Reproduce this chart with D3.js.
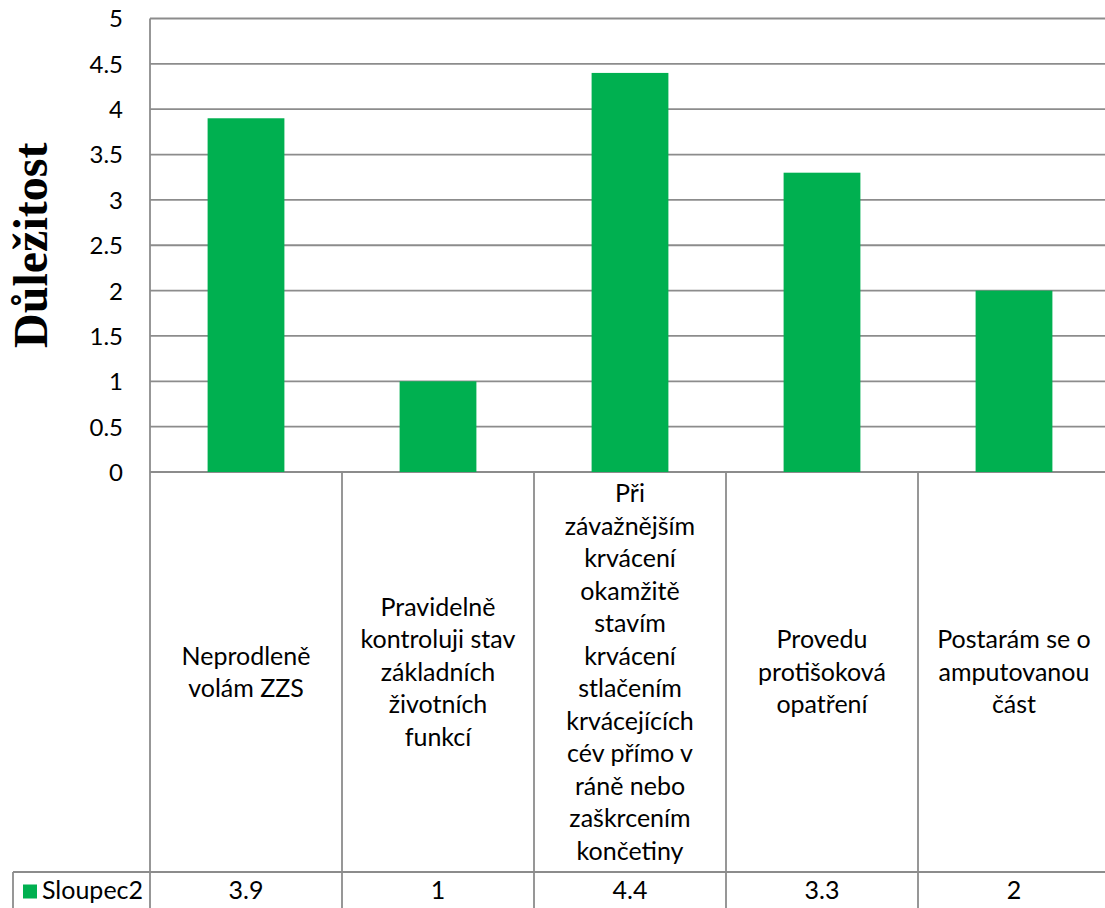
<!DOCTYPE html>
<html>
<head>
<meta charset="utf-8">
<script src="https://cdn.jsdelivr.net/npm/d3@7"></script>
<style>
  html, body { margin: 0; padding: 0; background: #fff; }
  svg { display: block; }
</style>
</head>
<body>
<svg id="chart" width="1105" height="908"></svg>
<script>
// Categories (line breaks as shown in the data table header cells)
const categories = [
  "Neprodleně\nvolám ZZS",
  "Pravidelně\nkontroluji stav\nzákladních\nživotních\nfunkcí",
  "Při\nzávažnějším\nkrvácení\nokamžitě\nstavím\nkrvácení\nstlačením\nkrvácejících\ncév přímo v\nráně nebo\nzaškrcením\nkončetiny",
  "Provedu\nprotišoková\nopatření",
  "Postarám se o\namputovanou\nčást"
];
const seriesName = "Sloupec2";
const values = [3.9, 1, 4.4, 3.3, 2];
const yTicks = [0, 0.5, 1, 1.5, 2, 2.5, 3, 3.5, 4, 4.5, 5];
const yTitle = "Důležitost";

const svg = d3.select("#chart");
const barColor = "#00B050";
const lineColor = "#8c8c8c";
const font = "Lato, 'Open Sans', sans-serif";
const textSize = 25;

const plot = { left: 150, right: 1110, top: 18.5, bottom: 472 };
const table = { labelBottom: 872, valueBottom: 910, legendLeft: 13 };

const x = d3.scaleBand()
  .domain(d3.range(categories.length))
  .range([plot.left, plot.right])
  .paddingInner(0.6)
  .paddingOuter(0.3);

// Category cell boundaries (no padding)
const cell = d3.scaleBand()
  .domain(d3.range(categories.length))
  .range([plot.left, plot.right]);

const y = d3.scaleLinear().domain([0, 5]).range([plot.bottom, plot.top]);

// Horizontal gridlines
svg.append("g")
  .selectAll("line")
  .data(yTicks)
  .join("line")
  .attr("x1", plot.left).attr("x2", plot.right)
  .attr("y1", d => y(d)).attr("y2", d => y(d))
  .attr("stroke", lineColor).attr("stroke-width", 1.8);

// Y axis tick labels
const yAxis = d3.axisLeft(y).tickValues(yTicks).tickSize(0).tickPadding(0)
  .tickFormat(d3.format("~g"));
const gy = svg.append("g")
  .attr("transform", `translate(${plot.left - 27},0)`)
  .call(yAxis);
gy.select(".domain").remove();
gy.selectAll("text")
  .attr("font-family", font).attr("font-size", 24).attr("fill", "#000")
  .attr("dy", "0.35em");

// Bars
svg.append("g")
  .selectAll("rect")
  .data(values)
  .join("rect")
  .attr("x", (d, i) => x(i))
  .attr("width", x.bandwidth())
  .attr("y", d => y(d))
  .attr("height", d => y(0) - y(d))
  .attr("fill", barColor);

// Data table grid
const grid = svg.append("g").attr("stroke", lineColor).attr("stroke-width", 1.8);
// vertical separators between category cells (and the axis line)
grid.selectAll("line.v")
  .data(d3.range(categories.length + 1))
  .join("line")
  .attr("class", "v")
  .attr("x1", i => i < categories.length ? cell(i) : plot.right)
  .attr("x2", i => i < categories.length ? cell(i) : plot.right)
  .attr("y1", i => i === 0 ? plot.top : plot.bottom)
  .attr("y2", table.valueBottom);
// line between label row and value row
grid.append("line")
  .attr("x1", table.legendLeft).attr("x2", plot.right)
  .attr("y1", table.labelBottom).attr("y2", table.labelBottom);
// legend cell left border
grid.append("line")
  .attr("x1", table.legendLeft).attr("x2", table.legendLeft)
  .attr("y1", table.labelBottom).attr("y2", table.valueBottom);
grid.append("line")
  .attr("x1", table.legendLeft).attr("x2", plot.right)
  .attr("y1", table.valueBottom).attr("y2", table.valueBottom);

// Category labels in the table header cells
const lineH = 32.5;
const labelMid = (plot.bottom + table.labelBottom) / 2;
svg.append("g")
  .selectAll("text")
  .data(categories)
  .join("text")
  .attr("font-family", font).attr("font-size", textSize).attr("fill", "#000")
  .attr("text-anchor", "middle")
  .each(function (d, i) {
    const lines = d.split("\n");
    const cx = cell(i) + cell.bandwidth() / 2;
    const y0 = labelMid - (lines.length - 1) * lineH / 2;
    d3.select(this).selectAll("tspan")
      .data(lines)
      .join("tspan")
      .attr("x", cx)
      .attr("y", (l, k) => y0 + k * lineH)
      .attr("dy", "0.35em")
      .text(l => l);
  });

// Value row
const valueMid = 890;
svg.append("g")
  .selectAll("text")
  .data(values)
  .join("text")
  .attr("x", (d, i) => cell(i) + cell.bandwidth() / 2)
  .attr("y", valueMid)
  .attr("dy", "0.35em")
  .attr("text-anchor", "middle")
  .attr("font-family", font).attr("font-size", textSize).attr("fill", "#000")
  .text(d => d3.format("~g")(d));

// Legend key in the value row
svg.append("rect")
  .attr("x", 23).attr("y", 884.5).attr("width", 14).attr("height", 14)
  .attr("fill", barColor);
svg.append("text")
  .attr("x", 42).attr("y", valueMid).attr("dy", "0.35em")
  .attr("font-family", font).attr("font-size", textSize).attr("fill", "#000")
  .text(seriesName);

// Y axis title
svg.append("text")
  .attr("transform", `translate(47,${(plot.top + plot.bottom) / 2}) rotate(-90)`)
  .attr("text-anchor", "middle")
  .attr("font-family", "'Liberation Serif', 'Times New Roman', serif")
  .attr("font-weight", "bold")
  .attr("font-size", 48)
  .attr("fill", "#000")
  .text(yTitle);
</script>
</body>
</html>
